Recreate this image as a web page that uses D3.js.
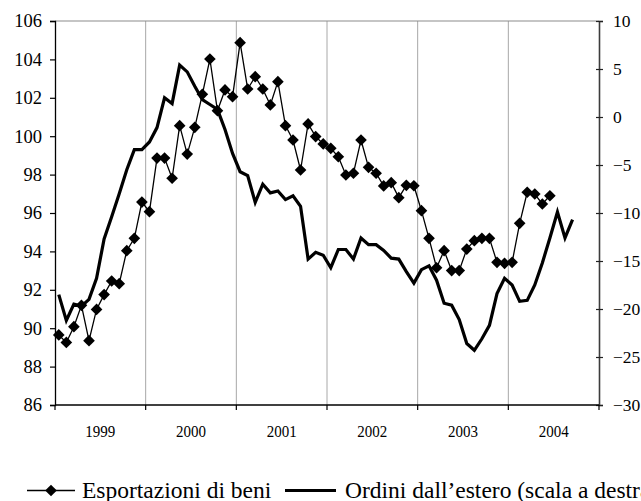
<!DOCTYPE html>
<html lang="it">
<head>
<meta charset="UTF-8">
<title>Esportazioni e ordini dall'estero</title>
<script src="https://d3js.org/d3.v7.min.js"></script>
<style>
  body { margin: 0; background: #fff; }
  svg { display: block; font-family: "Liberation Serif", "Times New Roman", serif; }
</style>
</head>
<body>
<div id="chart"></div>
<script>
// anni sull'asse orizzontale
const years = [1999, 2000, 2001, 2002, 2003, 2004];

// Esportazioni di beni (scala a sinistra), gen 1999 - giu 2004
const exportsSeries = [
  89.65, 89.26, 90.08, 91.19, 89.35, 90.98, 91.75, 92.46, 92.32, 94.04, 94.68, 96.57,
  96.07, 98.86, 98.86, 97.81, 100.55, 99.07, 100.46, 102.18, 104.02, 101.33, 102.41, 102.06,
  104.87, 102.46, 103.1, 102.46, 101.63, 102.84, 100.55, 99.8, 98.24, 100.64, 99.98, 99.6,
  99.37, 98.93, 97.98, 98.07, 99.8, 98.38, 98.07, 97.41, 97.58, 96.8, 97.44, 97.42,
  96.12, 94.68, 93.15, 94.04, 93.0, 93.0, 94.12, 94.56, 94.68, 94.68, 93.43, 93.38,
  93.43, 95.46, 97.08, 96.99, 96.47, 96.9
];

// Ordini dall'estero (scala a destra), gen 1999 - set 2004
const ordersSeries = [
  -18.5, -21.2, -19.5, -19.7, -19.0, -16.8, -12.7, -10.4, -8.0, -5.5, -3.4, -3.4,
  -2.6, -1.1, 2.0, 1.4, 5.4, 4.7, 3.2, 1.8, 1.3, 0.8, -1.3, -3.8,
  -5.7, -6.1, -8.9, -7.0, -7.9, -7.7, -8.6, -8.2, -9.3, -14.8, -14.1, -14.4,
  -15.7, -13.8, -13.8, -14.8, -12.6, -13.3, -13.3, -13.9, -14.7, -14.8, -16.1, -17.3,
  -15.9, -15.5, -17.0, -19.4, -19.6, -21.1, -23.6, -24.3, -23.1, -21.7, -18.4, -16.8,
  -17.5, -19.2, -19.1, -17.5, -15.2, -12.6, -9.9, -12.6, -10.7
];

const leftTicks = [86, 88, 90, 92, 94, 96, 98, 100, 102, 104, 106];
const rightTicks = [-30, -25, -20, -15, -10, -5, 0, 5, 10];
const legendLabels = ["Esportazioni di beni", "Ordini dall\u2019estero (scala a destra)"];

const width = 641, height = 501;
const margin = { top: 21, right: 42, bottom: 96, left: 55 };

const months = [];
years.forEach(y => d3.range(12).forEach(m => months.push(y + "-" + m)));

const svg = d3.select("#chart").append("svg")
  .attr("width", width)
  .attr("height", height);

const x = d3.scaleBand()
  .domain(months)
  .range([margin.left, width - margin.right])
  .padding(0);

const yL = d3.scaleLinear().domain([86, 106]).range([height - margin.bottom, margin.top]);
const yR = d3.scaleLinear().domain([-30, 10]).range([height - margin.bottom, margin.top]);

const cx = i => x(months[i]) + x.bandwidth() / 2;
const x0 = margin.left, x1 = width - margin.right;
const yTop = margin.top, yBot = height - margin.bottom;

// griglia verticale tra gli anni
svg.append("g")
  .selectAll("line")
  .data(years.slice(1))
  .join("line")
  .attr("x1", d => x(d + "-0")).attr("x2", d => x(d + "-0"))
  .attr("y1", yTop).attr("y2", yBot)
  .attr("stroke", "#a8a8a8").attr("stroke-width", 1);

// bordo superiore
svg.append("line")
  .attr("x1", x0).attr("x2", x1).attr("y1", yTop).attr("y2", yTop)
  .attr("stroke", "#8c8c8c").attr("stroke-width", 1.2);

// asse sinistro
const gL = svg.append("g")
  .attr("transform", `translate(${x0},0)`)
  .call(d3.axisLeft(yL).tickValues(leftTicks).tickSize(5).tickPadding(8));
gL.select(".domain").attr("stroke", "#000").attr("stroke-width", 1.3);
gL.selectAll(".tick line").attr("stroke", "#000").attr("stroke-width", 1.2);
gL.selectAll("text").attr("font-size", 18.5).attr("font-family", "Liberation Serif").attr("fill", "#000");

// asse destro
const gR = svg.append("g")
  .attr("transform", `translate(${x1},0)`)
  .call(d3.axisRight(yR).tickValues(rightTicks).tickSize(4).tickPadding(10));
gR.select(".domain").attr("stroke", "#3c3c3c").attr("stroke-width", 1.6);
gR.selectAll(".tick line").attr("x1", -3).attr("stroke", "#222").attr("stroke-width", 1.2);
gR.selectAll("text").attr("font-size", 17.5).attr("font-family", "Liberation Serif").attr("fill", "#000");

// asse orizzontale
const gX = svg.append("g").attr("transform", `translate(0,${yBot})`);
gX.append("line")
  .attr("x1", x0).attr("x2", x1).attr("y1", 0).attr("y2", 0)
  .attr("stroke", "#000").attr("stroke-width", 1.3);
gX.selectAll(".yt")
  .data(years.concat([years[years.length - 1] + 1]))
  .join("line")
  .attr("class", "yt")
  .attr("x1", (d, i) => i < years.length ? x(d + "-0") : x1)
  .attr("x2", (d, i) => i < years.length ? x(d + "-0") : x1)
  .attr("y1", 0).attr("y2", 5)
  .attr("stroke", "#000").attr("stroke-width", 1.2);
gX.selectAll("text")
  .data(years)
  .join("text")
  .attr("x", d => x(d + "-0") + x.bandwidth() * 6)
  .attr("y", 32)
  .attr("text-anchor", "middle")
  .attr("font-size", 17.5)
  .attr("textLength", 30)
  .attr("lengthAdjust", "spacingAndGlyphs")
  .text(d => d);

// serie ordini (linea spessa)
const lineR = d3.line().x((d, i) => cx(i)).y(d => yR(d));
svg.append("path")
  .datum(ordersSeries)
  .attr("d", lineR)
  .attr("fill", "none")
  .attr("stroke", "#000")
  .attr("stroke-width", 3.2)
  .attr("stroke-linejoin", "miter");

// serie esportazioni (linea sottile con rombi)
const lineL = d3.line().x((d, i) => cx(i)).y(d => yL(d));
svg.append("path")
  .datum(exportsSeries)
  .attr("d", lineL)
  .attr("fill", "none")
  .attr("stroke", "#000")
  .attr("stroke-width", 1.3);

const diamond = d3.symbol().type(d3.symbolSquare).size(68);
svg.append("g")
  .selectAll("path")
  .data(exportsSeries)
  .join("path")
  .attr("d", diamond)
  .attr("transform", (d, i) => `translate(${cx(i)},${yL(d)}) rotate(45)`)
  .attr("fill", "#000");

// legenda
const legY = 490.5;
const leg = svg.append("g").attr("font-size", 23.5).attr("fill", "#000");
leg.append("line").attr("x1", 27).attr("x2", 75).attr("y1", legY).attr("y2", legY)
  .attr("stroke", "#000").attr("stroke-width", 1.3);
leg.append("path").attr("d", diamond).attr("transform", `translate(51,${legY}) rotate(45)`);
leg.append("text").attr("x", 82).attr("y", legY + 7.5).text(legendLabels[0]);
leg.append("line").attr("x1", 285).attr("x2", 336).attr("y1", legY).attr("y2", legY)
  .attr("stroke", "#000").attr("stroke-width", 3.2);
leg.append("text").attr("x", 345).attr("y", legY + 7.5).text(legendLabels[1]);
</script>
</body>
</html>
